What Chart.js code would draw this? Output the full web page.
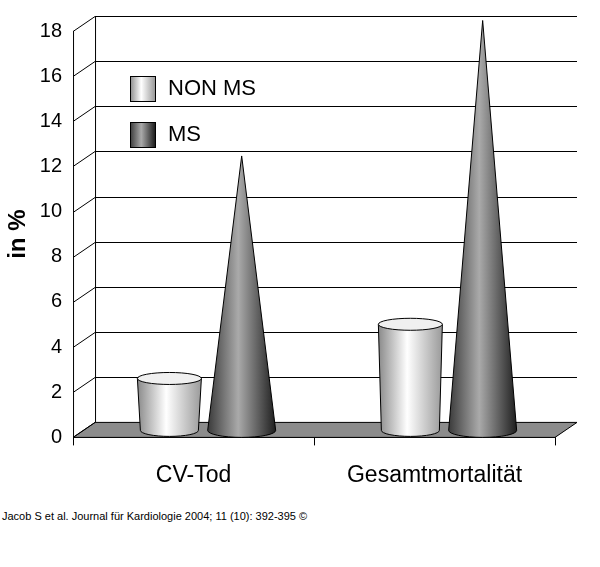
<!DOCTYPE html>
<html><head><meta charset="utf-8">
<script src="https://cdn.jsdelivr.net/npm/chart.js@4"></script>
<style>body{margin:0;background:#fff;font-family:Arial,"Liberation Sans",sans-serif}
#w{position:relative;width:600px;height:505px}
#cit{position:absolute;left:2px;top:510px;font-size:11px;font-family:Arial,"Liberation Sans",sans-serif;color:#000}</style>
</head><body>
<div id="w"><canvas id="c" width="600" height="505"></canvas></div>
<div id="cit">Jacob S et al. Journal für Kardiologie 2004; 11 (10): 392-395 ©</div>
<script>
const categories = ["CV-Tod", "Gesamtmortalität"];
const nonMS = [2.3, 4.7];
const ms = [12.2, 18.2];
const seriesNames = ["NON MS", "MS"];
const DX = 22, DY = 15;

function grad(ctx, x0, x1, dark) {
  const g = ctx.createLinearGradient(x0, 0, x1, 0);
  if (dark) { g.addColorStop(0, '#3a3a3a'); g.addColorStop(0.45, '#aaaaaa'); g.addColorStop(1, '#1e1e1e'); }
  else { g.addColorStop(0, '#8a8a8a'); g.addColorStop(0.45, '#ffffff'); g.addColorStop(1, '#9a9a9a'); }
  return g;
}
const deco = {
  id: 'deco',
  beforeDatasetsDraw(chart) {
    const ctx = chart.ctx, a = chart.chartArea, y = chart.scales.y;
    ctx.save();
    ctx.strokeStyle = '#000'; ctx.lineWidth = 1;
    ctx.fillStyle = '#8c8c8c';
    ctx.beginPath(); ctx.moveTo(a.left, a.bottom); ctx.lineTo(a.right, a.bottom);
    ctx.lineTo(a.right + DX, a.bottom - DY); ctx.lineTo(a.left + DX, a.bottom - DY); ctx.closePath();
    ctx.fill(); ctx.stroke();
    y.ticks.forEach(t => {
      const py = Math.round(y.getPixelForValue(t.value)) + 0.5;
      ctx.beginPath(); ctx.moveTo(a.left, py); ctx.lineTo(a.left + DX, py - DY);
      if (t.value > 0) ctx.lineTo(a.right + DX, py - DY);
      ctx.stroke();
    });
    ctx.beginPath(); ctx.moveTo(a.left + DX + .5, a.top - DY); ctx.lineTo(a.left + DX + .5, a.bottom - DY); ctx.stroke();
    ctx.beginPath(); ctx.moveTo(a.left + .5, a.top); ctx.lineTo(a.left + .5, a.bottom); ctx.stroke();
    ctx.restore();
  },
  afterDatasetsDraw(chart) {
    const ctx = chart.ctx, a = chart.chartArea;
    const ox = 12, base = a.bottom - 7;
    ctx.save(); ctx.strokeStyle = '#000'; ctx.lineWidth = 1;
    chart.getDatasetMeta(0).data.forEach(b => {
      const cx = b.x + ox, w = 64, top = b.y - 7, ry = 6;
      const x0 = cx - w / 2, x1 = cx + w / 2;
      ctx.fillStyle = grad(ctx, x0, x1, false);
      ctx.beginPath(); ctx.moveTo(x0, top); ctx.lineTo(x0 + 3, base);
      ctx.ellipse(cx, base, w / 2 - 3, ry, 0, Math.PI, 0, true);
      ctx.lineTo(x1, top); ctx.closePath(); ctx.fill(); ctx.stroke();
      ctx.fillStyle = '#f0f0f0';
      ctx.beginPath(); ctx.ellipse(cx, top, w / 2, ry, 0, 0, Math.PI * 2); ctx.fill(); ctx.stroke();
    });
    chart.getDatasetMeta(1).data.forEach(b => {
      const cx = b.x + ox, w = 68, ry = 7;
      const x0 = cx - w / 2, x1 = cx + w / 2;
      ctx.fillStyle = grad(ctx, x0, x1, true);
      ctx.beginPath(); ctx.moveTo(cx, b.y - 6); ctx.lineTo(x0, base);
      ctx.ellipse(cx, base, w / 2, ry, 0, Math.PI, 0, true);
      ctx.closePath(); ctx.fill(); ctx.stroke();
    });
    const items = [[seriesNames[0], false, 88], [seriesNames[1], true, 134]];
    items.forEach(([name, dark, ly]) => {
      ctx.fillStyle = grad(ctx, 130, 155, dark);
      ctx.fillRect(130, ly - 12, 25, 25); ctx.strokeRect(130.5, ly - 11.5, 25, 25);
      ctx.fillStyle = '#000'; ctx.font = '22px Arial, "Liberation Sans"'; ctx.textBaseline = 'middle';
      ctx.fillText(name, 168, ly + 1);
    });
    ctx.restore();
  }
};
new Chart(document.getElementById('c'), {
  type: 'bar',
  data: { labels: categories, datasets: [
    { label: seriesNames[0], data: nonMS, backgroundColor: 'rgba(0,0,0,0)' },
    { label: seriesNames[1], data: ms, backgroundColor: 'rgba(0,0,0,0)' }] },
  options: {
    responsive: false, animation: false, devicePixelRatio: 1,
    layout: { padding: { top: 31, right: 45, left: 0, bottom: 0 } },
    plugins: { legend: { display: false }, tooltip: { enabled: false } },
    datasets: { bar: { categoryPercentage: 0.6, barPercentage: 1 } },
    scales: {
      y: { min: 0, max: 18, ticks: { stepSize: 2, color: '#000', font: { size: 20, family: 'Arial' } },
        grid: { display: false }, border: { display: false },
        title: { display: true, text: 'in %', color: '#000', font: { size: 24, weight: 'bold', family: 'Arial' } } },
      x: { ticks: { color: '#000', font: { size: 23, family: 'Arial' }, padding: 16 },
        grid: { display: true, color: '#000', drawOnChartArea: false, tickLength: 8, offset: true }, border: { color: '#000' } }
    }
  },
  plugins: [deco]
});
</script>
</body></html>
